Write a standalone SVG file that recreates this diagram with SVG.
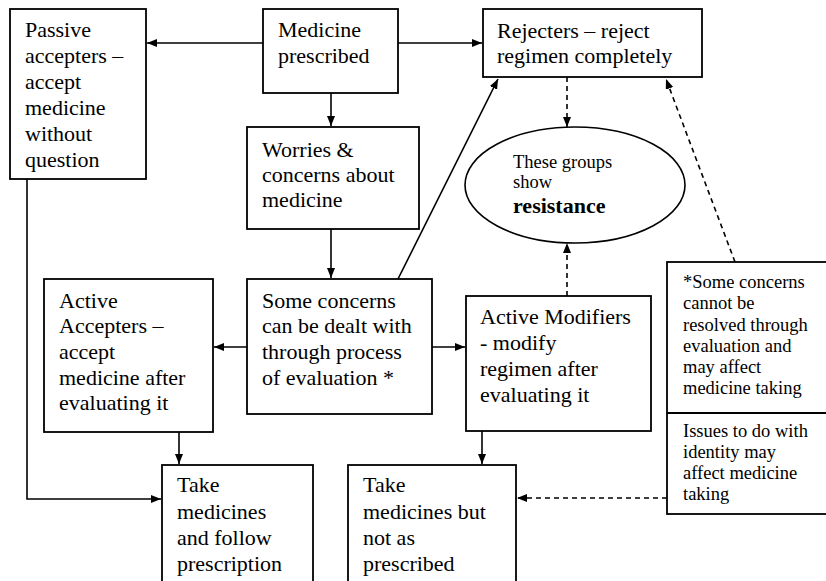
<svg xmlns="http://www.w3.org/2000/svg" width="826" height="581" viewBox="0 0 826 581">
<defs>
<marker id="ah" viewBox="0 0 10 8" refX="10" refY="4" markerWidth="10" markerHeight="8" markerUnits="userSpaceOnUse" orient="auto">
<path d="M0,0 L10,4 L0,8 Z" fill="#000"/>
</marker>
<style>
.box{fill:#fff;stroke:#000;stroke-width:1.8}
text{font-family:'Liberation Serif','Times New Roman',Times,serif;fill:#000}
.t{font-size:22px}
.s{font-size:18.5px}
.c{fill:none;stroke:#000;stroke-width:1.6}
.d{fill:none;stroke:#000;stroke-width:1.6;stroke-dasharray:5 4}
</style>
</defs>
<rect width="826" height="581" fill="#fff"/>
<g id="connectors">
<line class="c" x1="263" y1="43" x2="147" y2="43" marker-end="url(#ah)"/>
<line class="c" x1="398" y1="43" x2="482" y2="43" marker-end="url(#ah)"/>
<line class="c" x1="331" y1="93" x2="331" y2="126" marker-end="url(#ah)"/>
<line class="c" x1="331" y1="229" x2="331" y2="278" marker-end="url(#ah)"/>
<line class="c" x1="398" y1="279" x2="498" y2="79" marker-end="url(#ah)"/>
<line class="d" x1="567" y1="77" x2="567" y2="127" marker-end="url(#ah)"/>
<line class="d" x1="567" y1="296" x2="567" y2="243" marker-end="url(#ah)"/>
<line class="d" x1="735" y1="262" x2="666" y2="79" marker-end="url(#ah)"/>
<line class="c" x1="247" y1="347" x2="214" y2="347" marker-end="url(#ah)"/>
<line class="c" x1="432" y1="347" x2="465" y2="347" marker-end="url(#ah)"/>
<line class="c" x1="179" y1="432" x2="179" y2="464" marker-end="url(#ah)"/>
<line class="c" x1="482" y1="431" x2="482" y2="464" marker-end="url(#ah)"/>
<polyline class="c" points="27,179 27,499 161,499" marker-end="url(#ah)"/>
<line class="d" x1="667" y1="498" x2="517" y2="498" marker-end="url(#ah)"/>
</g>
<g id="passive">
<rect class="box" x="10" y="9" width="136" height="170"/>
<text class="t" x="25" y="37">Passive</text>
<text class="t" x="25" y="63">accepters –</text>
<text class="t" x="25" y="89">accept</text>
<text class="t" x="25" y="115">medicine</text>
<text class="t" x="25" y="141">without</text>
<text class="t" x="25" y="167">question</text>
</g>
<g id="medicine">
<rect class="box" x="263" y="9" width="135" height="84"/>
<text class="t" x="278" y="37">Medicine</text>
<text class="t" x="278" y="63">prescribed</text>
</g>
<g id="rejecters">
<rect class="box" x="483" y="9" width="219" height="68"/>
<text class="t" x="497" y="38">Rejecters – reject</text>
<text class="t" x="497" y="63">regimen completely</text>
</g>
<g id="worries">
<rect class="box" x="247" y="127" width="172" height="102"/>
<text class="t" x="262" y="157">Worries &amp;</text>
<text class="t" x="262" y="182">concerns about</text>
<text class="t" x="262" y="207">medicine</text>
</g>
<g id="resistance">
<ellipse cx="575" cy="185" rx="110" ry="58" fill="#fff" stroke="#000" stroke-width="1.6"/>
<text class="s" x="513" y="168">These groups</text>
<text class="s" x="513" y="188">show</text>
<text class="t" x="513" y="213" font-weight="bold" font-size="21px">resistance</text>
</g>
<g id="some-concerns">
<rect class="box" x="247" y="279" width="185" height="135"/>
<text class="t" x="262" y="308">Some concerns</text>
<text class="t" x="262" y="333">can be dealt with</text>
<text class="t" x="262" y="359">through process</text>
<text class="t" x="262" y="385">of evaluation *</text>
</g>
<g id="active-accepters">
<rect class="box" x="44" y="279" width="169" height="153"/>
<text class="t" x="59" y="308">Active</text>
<text class="t" x="59" y="333">Accepters –</text>
<text class="t" x="59" y="359">accept</text>
<text class="t" x="59" y="385">medicine after</text>
<text class="t" x="59" y="410">evaluating it</text>
</g>
<g id="active-modifiers">
<rect class="box" x="466" y="296" width="185" height="135"/>
<text class="t" x="480" y="324">Active Modifiers</text>
<text class="t" x="480" y="350">- modify</text>
<text class="t" x="480" y="376">regimen after</text>
<text class="t" x="480" y="402">evaluating it</text>
</g>
<g id="note">
<rect class="box" x="667" y="262" width="170" height="252"/>
<line x1="667" y1="413" x2="837" y2="413" stroke="#000" stroke-width="1.8"/>
<text class="s" x="683" y="288">*Some concerns</text>
<text class="s" x="683" y="309">cannot be</text>
<text class="s" x="683" y="331">resolved through</text>
<text class="s" x="683" y="352">evaluation and</text>
<text class="s" x="683" y="373">may affect</text>
<text class="s" x="683" y="394">medicine taking</text>
<text class="s" x="683" y="437">Issues to do with</text>
<text class="s" x="683" y="458">identity may</text>
<text class="s" x="683" y="479">affect medicine</text>
<text class="s" x="683" y="500">taking</text>
</g>
<g id="take-follow">
<rect class="box" x="162" y="465" width="151" height="130"/>
<text class="t" x="177" y="492">Take</text>
<text class="t" x="177" y="519">medicines</text>
<text class="t" x="177" y="545">and follow</text>
<text class="t" x="177" y="571">prescription</text>
</g>
<g id="take-not">
<rect class="box" x="348" y="465" width="168" height="130"/>
<text class="t" x="363" y="492">Take</text>
<text class="t" x="363" y="519">medicines but</text>
<text class="t" x="363" y="545">not as</text>
<text class="t" x="363" y="571">prescribed</text>
</g>
</svg>
